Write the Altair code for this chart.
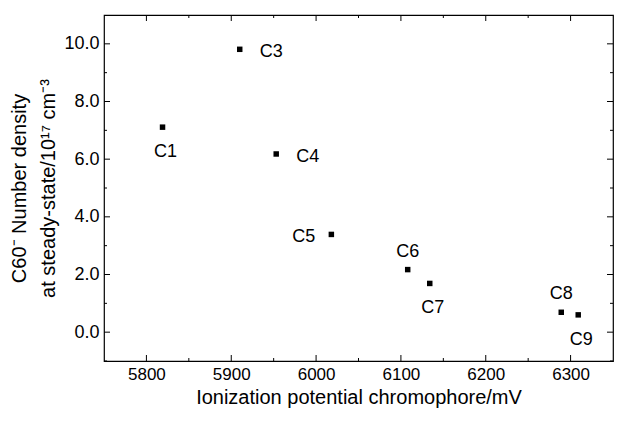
import altair as alt
import pandas as pd

labels = ["C1", "C3", "C4", "C5", "C6", "C7", "C8", "C9"]
potential = [5819, 5910, 5953, 6018, 6108, 6134, 6289, 6309]
density = [7.11, 9.81, 6.18, 3.39, 2.17, 1.69, 0.69, 0.60]

x_major = [5800, 5900, 6000, 6100, 6200, 6300]
x_minor = [5850, 5950, 6050, 6150, 6250]
y_major = [0, 2, 4, 6, 8, 10]
y_minor = [-1, 1, 3, 5, 7, 9]

right_labels = ["C3", "C4"]
left_labels = ["C5"]
above_labels = ["C6", "C8"]
below_labels = ["C1", "C7", "C9"]

W, H = 509, 346
FONT = "Liberation Sans"

df = pd.DataFrame({"label": labels, "x": potential, "y": density})
xs = alt.Scale(domain=[5750, 6350], nice=False, zero=False)
ys = alt.Scale(domain=[-1, 11], nice=False, zero=False)

base = alt.Chart(df)

points = base.mark_square(size=30, color="black", opacity=1).encode(
    x=alt.X("x:Q", scale=xs,
            axis=alt.Axis(values=x_major, format="d", title="Ionization potential chromophore/mV",
                          ticks=False, domain=False, grid=False, labelPadding=5,
                          titlePadding=5)),
    y=alt.Y("y:Q", scale=ys,
            axis=alt.Axis(values=y_major, format=".1f",
                          title=["C60\u207b Number density", "at steady-state/10\u00b9\u2077 cm\u207b\u00b3"],
                          ticks=False, domain=False, grid=False, labelPadding=5,
                          titlePadding=5, titleLineHeight=29)),
)

def text_layer(subset, **kw):
    return base.transform_filter(
        alt.FieldOneOfPredicate(field="label", oneOf=subset)
    ).mark_text(font=FONT, fontSize=18, color="black", **kw).encode(
        x="x:Q", y="y:Q", text="label:N"
    )

t_right = text_layer(right_labels, align="left", dx=20, dy=3)
t_left = text_layer(left_labels, align="right", dx=-16, dy=3)
t_above = text_layer(above_labels, align="center", dx=0, dy=-18)
t_below = text_layer(below_labels, align="center", dx=3, dy=25)

xt_major = pd.DataFrame({"v": x_major})
xt_minor = pd.DataFrame({"v": x_minor})
yt_major = pd.DataFrame({"v": y_major})
yt_minor = pd.DataFrame({"v": y_minor})

def xticks(d, L):
    bot = alt.Chart(d).mark_rule(color="black", strokeWidth=1).encode(
        x=alt.X("v:Q", scale=xs), y=alt.value(H), y2=alt.value(H - L))
    top = alt.Chart(d).mark_rule(color="black", strokeWidth=1).encode(
        x=alt.X("v:Q", scale=xs), y=alt.value(0), y2=alt.value(L))
    return bot + top

def yticks(d, L):
    lft = alt.Chart(d).mark_rule(color="black", strokeWidth=1).encode(
        y=alt.Y("v:Q", scale=ys), x=alt.value(0), x2=alt.value(L))
    rgt = alt.Chart(d).mark_rule(color="black", strokeWidth=1).encode(
        y=alt.Y("v:Q", scale=ys), x=alt.value(W), x2=alt.value(W - L))
    return lft + rgt

chart = alt.layer(
    points, t_right, t_left, t_above, t_below,
    xticks(xt_major, 6), xticks(xt_minor, 3),
    yticks(yt_major, 6), yticks(yt_minor, 3),
).properties(
    width=W, height=H,
    autosize=alt.AutoSizeParams(type="none"),
    padding={"left": 96, "top": 7, "right": 1, "bottom": 50},
    background="white",
).configure_view(
    stroke="black", strokeWidth=1.2
).configure_axis(
    labelFont=FONT, titleFont=FONT, labelFontSize=17, titleFontSize=20,
    labelColor="black", titleColor="black", titleFontWeight="normal"
).configure_axisY(
    labelFontSize=18
)

chart.save("out.html", embed_options={"renderer": "svg", "actions": False})
